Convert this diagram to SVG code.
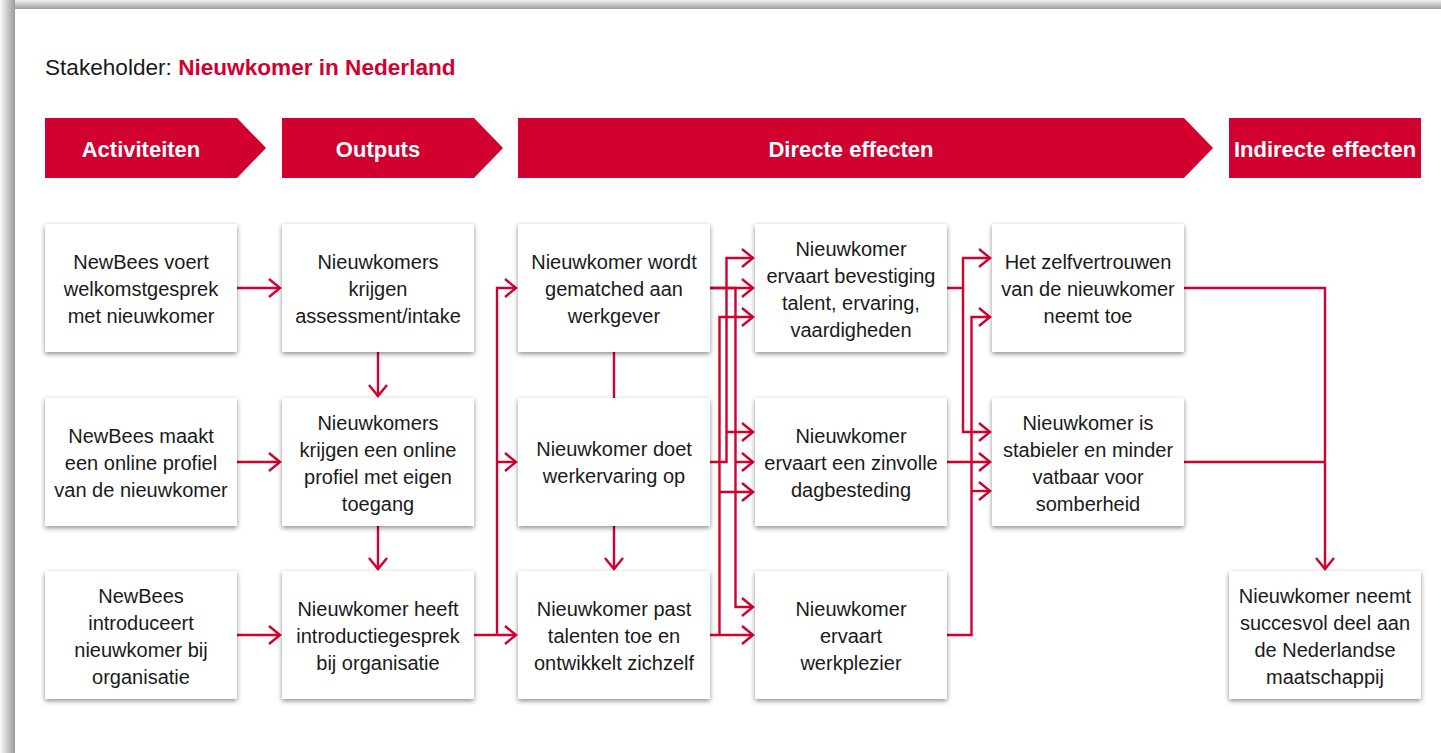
<svg xmlns="http://www.w3.org/2000/svg" width="1441" height="753" viewBox="0 0 1441 753">
<style>
  .box { fill: #ffffff; filter: url(#sh); }
  .hdr { fill: #d1002f; }
  .ht { font-family: "Liberation Sans", Arial, sans-serif; font-weight: bold; font-size: 22px; fill: #ffffff; text-anchor: middle; }
  .t { font-family: "Liberation Sans", Arial, sans-serif; font-size: 20px; fill: #1a1a1a; text-anchor: middle; }
  .c { fill: none; stroke: #d1002f; stroke-width: 2.4; }
  .a { marker-end: url(#ah); }
</style>
<defs>
  <filter id="sh" x="-10%" y="-10%" width="120%" height="125%">
    <feDropShadow dx="0" dy="2" stdDeviation="2.5" flood-color="#000" flood-opacity="0.45"/>
  </filter>
  <linearGradient id="gt" x1="0" y1="0" x2="0" y2="1">
    <stop offset="0" stop-color="#f2f2f2"/>
    <stop offset="1" stop-color="#9e9e9e"/>
  </linearGradient>
  <linearGradient id="gl" x1="0" y1="0" x2="1" y2="0">
    <stop offset="0" stop-color="#fafafa"/>
    <stop offset="1" stop-color="#9a9a9a"/>
  </linearGradient>
  <marker id="ah" markerUnits="userSpaceOnUse" markerWidth="20" markerHeight="24" viewBox="-14 -12 16 24" refX="0" refY="0" orient="auto">
    <path d="M-11,-9 L0,0 L-11,9" fill="none" stroke="#d1002f" stroke-width="2.4"/>
  </marker>
</defs>

<rect x="0" y="0" width="1441" height="753" fill="#ffffff"/>
<rect x="0" y="0" width="1441" height="9" fill="url(#gt)"/>
<rect x="0" y="0" width="15" height="753" fill="url(#gl)"/>
<rect x="15" y="9" width="1426" height="744" fill="#ffffff"/>

<text x="45" y="75" font-family="Liberation Sans, Arial, sans-serif" font-size="22.6" fill="#1a1a1a">Stakeholder: <tspan font-weight="bold" fill="#d1002f">Nieuwkomer in Nederland</tspan></text>

<g id="headers">
  <g id="h-activiteiten"><path class="hdr" d="M45,118 H237 L266,148 L237,178 H45 Z"/><text class="ht" x="141" y="157">Activiteiten</text></g>
  <g id="h-outputs"><path class="hdr" d="M282,118 H474 L503,148 L474,178 H282 Z"/><text class="ht" x="378" y="157">Outputs</text></g>
  <g id="h-directe"><path class="hdr" d="M518,118 H1184 L1213,148 L1184,178 H518 Z"/><text class="ht" x="851" y="157">Directe effecten</text></g>
  <g id="h-indirecte"><rect class="hdr" x="1229" y="118" width="192" height="60"/><text class="ht" x="1325" y="157">Indirecte effecten</text></g>
</g>

<g id="connectors">
  <path class="c a" d="M237,288 H280"/>
  <path class="c a" d="M237,462 H280"/>
  <path class="c a" d="M237,635 H280"/>
  <path class="c a" d="M378,352 V396"/>
  <path class="c a" d="M378,526 V569"/>
  <path class="c a" d="M474,635 H516"/>
  <path class="c a" d="M497,635 V288 H516"/>
  <path class="c a" d="M497,462 H516"/>
  <path class="c" d="M614,352 V398"/>
  <path class="c a" d="M614,526 V569"/>
  <path class="c a" d="M710,288 H753"/>
  <path class="c a" d="M710,288 H735.5 V607 H753"/>
  <path class="c a" d="M735.5,462 H753"/>
  <path class="c a" d="M710,462 H726.5 V258 H753"/>
  <path class="c a" d="M726.5,432 H753"/>
  <path class="c a" d="M710,635 H753"/>
  <path class="c a" d="M719.5,635 V317 H753"/>
  <path class="c a" d="M719.5,492 H753"/>
  <path class="c a" d="M947,288 H963 V258 H990"/>
  <path class="c a" d="M963,288 V432 H990"/>
  <path class="c a" d="M947,462 H990"/>
  <path class="c a" d="M947,635 H971.5 V317 H990"/>
  <path class="c a" d="M971.5,491 H990"/>
  <path class="c a" d="M1184,288 H1325 V569"/>
  <path class="c" d="M1184,462 H1325"/>
</g>

<g id="n1"><rect class="box" x="45" y="224" width="192" height="128"/>
  <text class="t" x="141" y="269">NewBees voert</text><text class="t" x="141" y="296">welkomstgesprek</text><text class="t" x="141" y="323">met nieuwkomer</text></g>
<g id="n2"><rect class="box" x="45" y="398" width="192" height="128"/>
  <text class="t" x="141" y="443">NewBees maakt</text><text class="t" x="141" y="470">een online profiel</text><text class="t" x="141" y="497">van de nieuwkomer</text></g>
<g id="n3"><rect class="box" x="45" y="571" width="192" height="128"/>
  <text class="t" x="141" y="603">NewBees</text><text class="t" x="141" y="630">introduceert</text><text class="t" x="141" y="657">nieuwkomer bij</text><text class="t" x="141" y="684">organisatie</text></g>

<g id="n4"><rect class="box" x="282" y="224" width="192" height="128"/>
  <text class="t" x="378" y="269">Nieuwkomers</text><text class="t" x="378" y="296">krijgen</text><text class="t" x="378" y="323">assessment/intake</text></g>
<g id="n5"><rect class="box" x="282" y="398" width="192" height="128"/>
  <text class="t" x="378" y="430">Nieuwkomers</text><text class="t" x="378" y="457">krijgen een online</text><text class="t" x="378" y="484">profiel met eigen</text><text class="t" x="378" y="511">toegang</text></g>
<g id="n6"><rect class="box" x="282" y="571" width="192" height="128"/>
  <text class="t" x="378" y="616">Nieuwkomer heeft</text><text class="t" x="378" y="643">introductiegesprek</text><text class="t" x="378" y="670">bij organisatie</text></g>

<g id="n7"><rect class="box" x="518" y="224" width="192" height="128"/>
  <text class="t" x="614" y="269">Nieuwkomer wordt</text><text class="t" x="614" y="296">gematched aan</text><text class="t" x="614" y="323">werkgever</text></g>
<g id="n8"><rect class="box" x="518" y="398" width="192" height="128"/>
  <text class="t" x="614" y="456">Nieuwkomer doet</text><text class="t" x="614" y="483">werkervaring op</text></g>
<g id="n9"><rect class="box" x="518" y="571" width="192" height="128"/>
  <text class="t" x="614" y="616">Nieuwkomer past</text><text class="t" x="614" y="643">talenten toe en</text><text class="t" x="614" y="670">ontwikkelt zichzelf</text></g>

<g id="n10"><rect class="box" x="755" y="224" width="192" height="128"/>
  <text class="t" x="851" y="256">Nieuwkomer</text><text class="t" x="851" y="283">ervaart bevestiging</text><text class="t" x="851" y="310">talent, ervaring,</text><text class="t" x="851" y="337">vaardigheden</text></g>
<g id="n11"><rect class="box" x="755" y="398" width="192" height="128"/>
  <text class="t" x="851" y="443">Nieuwkomer</text><text class="t" x="851" y="470">ervaart een zinvolle</text><text class="t" x="851" y="497">dagbesteding</text></g>
<g id="n12"><rect class="box" x="755" y="571" width="192" height="128"/>
  <text class="t" x="851" y="616">Nieuwkomer</text><text class="t" x="851" y="643">ervaart</text><text class="t" x="851" y="670">werkplezier</text></g>

<g id="n13"><rect class="box" x="992" y="224" width="192" height="128"/>
  <text class="t" x="1088" y="269">Het zelfvertrouwen</text><text class="t" x="1088" y="296">van de nieuwkomer</text><text class="t" x="1088" y="323">neemt toe</text></g>
<g id="n14"><rect class="box" x="992" y="398" width="192" height="128"/>
  <text class="t" x="1088" y="430">Nieuwkomer is</text><text class="t" x="1088" y="457">stabieler en minder</text><text class="t" x="1088" y="484">vatbaar voor</text><text class="t" x="1088" y="511">somberheid</text></g>

<g id="n15"><rect class="box" x="1229" y="571" width="192" height="128"/>
  <text class="t" x="1325" y="603">Nieuwkomer neemt</text><text class="t" x="1325" y="630">succesvol deel aan</text><text class="t" x="1325" y="657">de Nederlandse</text><text class="t" x="1325" y="684">maatschappij</text></g>
</svg>
